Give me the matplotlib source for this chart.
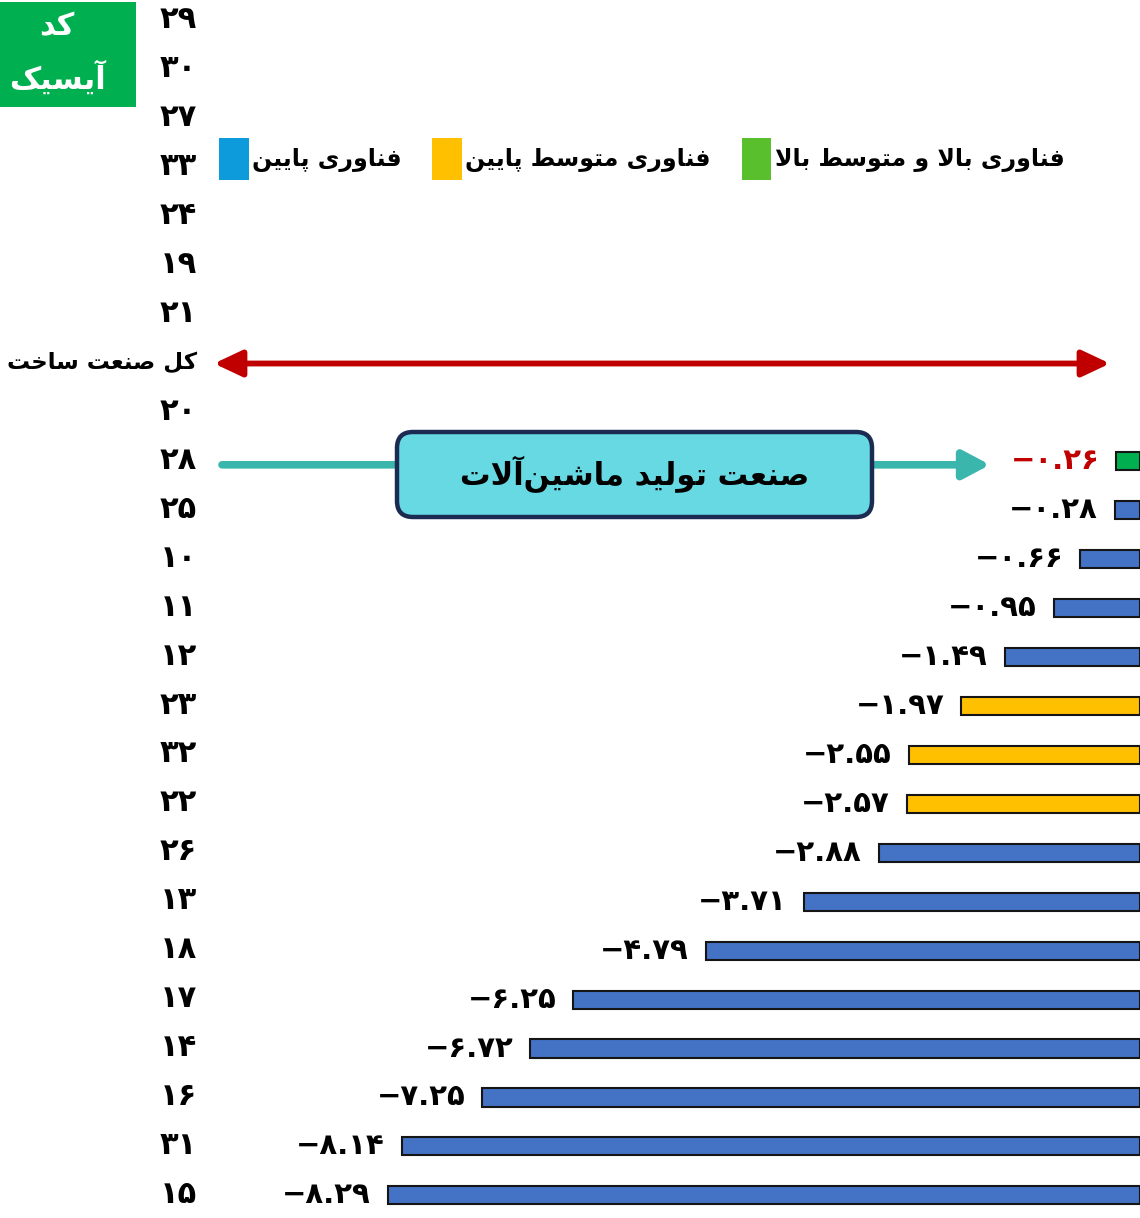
import numpy as np
import matplotlib
matplotlib.use("Agg")
import matplotlib.pyplot as plt
from matplotlib.patches import Patch, Rectangle, FancyBboxPatch
from matplotlib.transforms import IdentityTransform, ScaledTranslation

# ---------------- data ----------------
isic_codes = ['۲۹', '۳۰', '۲۷', '۳۳', '۲۴', '۱۹', '۲۱', 'کل صنعت ساخت', '۲۰',
              '۲۸', '۲۵', '۱۰', '۱۱', '۱۲', '۲۳', '۳۲', '۲۲', '۲۶', '۱۳', '۱۸',
              '۱۷', '۱۴', '۱۶', '۳۱', '۱۵']
growth = [np.nan, np.nan, np.nan, np.nan, np.nan, np.nan, np.nan, np.nan, np.nan,
          -0.26, -0.28, -0.66, -0.95, -1.49, -1.97, -2.55, -2.57, -2.88, -3.71, -4.79,
          -6.25, -6.72, -7.25, -8.14, -8.29]
tech_group = [None, None, None, None, None, None, None, None, None,
              'high', 'low', 'low', 'low', 'low', 'medlow', 'medlow', 'medlow', 'low',
              'low', 'low', 'low', 'low', 'low', 'low', 'low']
legend_labels = ['فناوری پایین', 'فناوری متوسط پایین', 'فناوری بالا و متوسط بالا']
total_label = 'کل صنعت ساخت'
highlight_code = '۲۸'
highlight_text = 'صنعت تولید ماشین‌آلات'
header_text = ['کد', 'آیسیک']

bar_colors = {'high': '#00B050', 'medlow': '#FFC000', 'low': '#4472C4', None: '#4472C4'}
legend_colors = ['#0E9BDB', '#FFC000', '#5ABF2D']

# ---------------- minimal Arabic/Persian shaping ----------------
FORMS = {
    '\u0627': ('\uFE8D', '\uFE8E'), '\u0622': ('\uFE81', '\uFE82'),
    '\u062F': ('\uFEA9', '\uFEAA'), '\u0631': ('\uFEAD', '\uFEAE'),
    '\u0648': ('\uFEED', '\uFEEE'),
    '\u0628': ('\uFE8F', '\uFE90', '\uFE91', '\uFE92'),
    '\u067E': ('\uFB56', '\uFB57', '\uFB58', '\uFB59'),
    '\u062A': ('\uFE95', '\uFE96', '\uFE97', '\uFE98'),
    '\u062E': ('\uFEA5', '\uFEA6', '\uFEA7', '\uFEA8'),
    '\u0633': ('\uFEB1', '\uFEB2', '\uFEB3', '\uFEB4'),
    '\u0634': ('\uFEB5', '\uFEB6', '\uFEB7', '\uFEB8'),
    '\u0635': ('\uFEB9', '\uFEBA', '\uFEBB', '\uFEBC'),
    '\u0637': ('\uFEC1', '\uFEC2', '\uFEC3', '\uFEC4'),
    '\u0639': ('\uFEC9', '\uFECA', '\uFECB', '\uFECC'),
    '\u0641': ('\uFED1', '\uFED2', '\uFED3', '\uFED4'),
    '\u06A9': ('\uFB8E', '\uFB8F', '\uFB90', '\uFB91'),
    '\u0644': ('\uFEDD', '\uFEDE', '\uFEDF', '\uFEE0'),
    '\u0645': ('\uFEE1', '\uFEE2', '\uFEE3', '\uFEE4'),
    '\u0646': ('\uFEE5', '\uFEE6', '\uFEE7', '\uFEE8'),
    '\u06CC': ('\uFBFC', '\uFBFD', '\uFBFE', '\uFBFF'),
}
LAM_ALEF = {'\u0627': ('\uFEFB', '\uFEFC'), '\u0622': ('\uFEF5', '\uFEF6')}


def shape(s):
    s = s.replace('\u064A', '\u06CC').replace('\u0643', '\u06A9')
    if not any(c in FORMS for c in s):
        return s
    toks = []
    i = 0
    while i < len(s):
        c = s[i]
        if c == '\u0644' and i + 1 < len(s) and s[i + 1] in LAM_ALEF:
            toks.append(('LA', s[i + 1]))
            i += 2
        else:
            toks.append(c)
            i += 1

    def dual(t):
        return isinstance(t, str) and t in FORMS and len(FORMS[t]) == 4

    def joining(t):
        return isinstance(t, tuple) or (t in FORMS)

    out = []
    for j, t in enumerate(toks):
        prev = toks[j - 1] if j > 0 else None
        nxt = toks[j + 1] if j + 1 < len(toks) else None
        jp = prev is not None and dual(prev)
        if isinstance(t, tuple):
            out.append(LAM_ALEF[t[1]][1 if jp else 0])
            continue
        if t not in FORMS:
            if t != '\u200C':
                out.append(t)
            continue
        f = FORMS[t]
        jn = len(f) == 4 and nxt is not None and joining(nxt)
        if len(f) == 2:
            out.append(f[1] if jp else f[0])
        else:
            if jp and jn:
                out.append(f[3])
            elif jp:
                out.append(f[1])
            elif jn:
                out.append(f[2])
            else:
                out.append(f[0])
    return ''.join(reversed(out))


FA_DIGITS = str.maketrans('0123456789', '۰۱۲۳۴۵۶۷۸۹')


def fa_num(v):
    return ('−' if v < 0 else '') + f'{abs(v):.2f}'.translate(FA_DIGITS)


# ---------------- figure ----------------
plt.rcParams['font.family'] = ['DejaVu Sans']
W, H = 1140, 1218
fig = plt.figure(figsize=(W / 100, H / 100), dpi=100)
ax_left = 205
ax = fig.add_axes([ax_left / W, 0, 1 - ax_left / W, 1])

n = len(isic_codes)
ypos = np.arange(n)
px_per_unit = 90.7
row_px0, row_step = 21.0, 48.93
ax.set_xlim(-(W - ax_left) / px_per_unit, 0)
ax.set_ylim((H - row_px0) / row_step, -row_px0 / row_step)

vals = np.array(growth, dtype=float)
mask = ~np.isnan(vals)
colors = [bar_colors[g] for g, m in zip(tech_group, mask) if m]
ax.barh(ypos[mask], vals[mask], height=0.37, color=colors,
        edgecolor='#151515', linewidth=1.5, zorder=2)

for i, v in enumerate(vals):
    if np.isnan(v):
        continue
    col = '#C00000' if isic_codes[i] == highlight_code else 'black'
    ax.annotate(fa_num(v), xy=(v, i), xytext=(-17, 0), textcoords='offset pixels',
                ha='right', va='center', fontsize=21, fontweight='bold', color=col)

ax.set_yticks(ypos)
ax.set_yticklabels([shape(c) for c in isic_codes], fontsize=22, fontweight='bold')
ax.tick_params(axis='y', length=0, pad=6)
lift = ScaledTranslation(0, 4 / 100, fig.dpi_scale_trans)
for lab in ax.get_yticklabels():
    lab.set_transform(lab.get_transform() + lift)
    if lab.get_text() == shape(total_label):
        lab.set_fontsize(16.5)
ax.set_xticks([])
for sp in ax.spines.values():
    sp.set_visible(False)


def axx(px):
    return (px - ax_left) / (W - ax_left)


# total-industry double arrow
i_tot = isic_codes.index(total_label)
ax.annotate('', xy=(axx(1110), i_tot), xytext=(axx(214), i_tot),
            xycoords=('axes fraction', 'data'), textcoords=('axes fraction', 'data'),
            arrowprops=dict(arrowstyle='<|-|>,head_length=1.7,head_width=0.8',
                            color='#C00000', lw=4.2, shrinkA=0, shrinkB=0),
            annotation_clip=False)

# highlight arrow for machinery
i_hl = isic_codes.index(highlight_code)
ax.annotate('', xy=(axx(990), i_hl + 0.07), xytext=(axx(222), i_hl + 0.07),
            xycoords=('axes fraction', 'data'), textcoords=('axes fraction', 'data'),
            arrowprops=dict(arrowstyle='-|>,head_length=1.6,head_width=0.85',
                            color='#3BB6AD', lw=5.5, shrinkA=0, shrinkB=0),
            annotation_clip=False)

# callout box (pixel coordinates, origin bottom-left)
box = FancyBboxPatch((397, H - 517), 475, 85,
                     boxstyle='round,pad=0,rounding_size=16',
                     transform=IdentityTransform(), facecolor='#67D9E3',
                     edgecolor='#1C2B52', linewidth=3.2, zorder=5)
fig.patches.append(box)
fig.text(634.5 / W, 1 - 474 / H, shape(highlight_text), ha='center', va='center',
         fontsize=22, fontweight='bold', color='black', zorder=6)

# header box
hdr = Rectangle((0, 1 - 107 / H), 136 / W, 105 / H, transform=fig.transFigure,
                facecolor='#00B050', edgecolor='none', zorder=5)
fig.patches.append(hdr)
fig.text(57 / W, 1 - 27 / H, shape(header_text[0]), ha='center', va='center',
         fontsize=22, fontweight='bold', color='white', zorder=6)
fig.text(57 / W, 1 - 77 / H, shape(header_text[1]), ha='center', va='center',
         fontsize=22, fontweight='bold', color='white', zorder=6)

# legend
handles = [Patch(facecolor=c, edgecolor='none') for c in legend_colors]
leg = ax.legend(handles, [shape(t) for t in legend_labels], ncol=3,
                loc='center left', bbox_to_anchor=(axx(219), 1 - 159 / H),
                frameon=False, prop={'size': 17, 'weight': 'bold'},
                handlelength=1.25, handleheight=2.36, handletextpad=0.15,
                columnspacing=1.3, borderaxespad=0, borderpad=0)

fig.savefig('out.png', dpi=100, facecolor='white')
